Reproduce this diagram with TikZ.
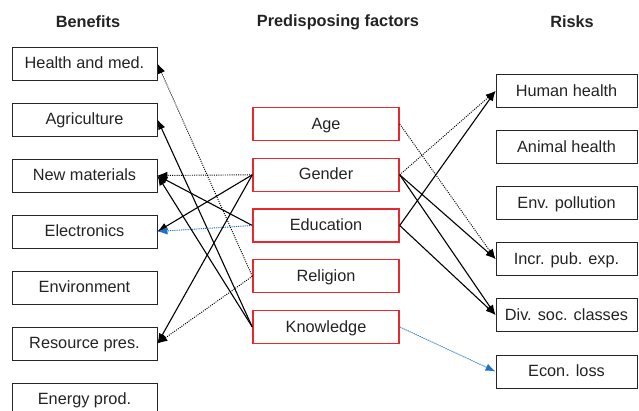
\documentclass[tikz,border=0pt]{standalone}
\usepackage{fontspec}
\setmainfont{Liberation Sans}
\usetikzlibrary{arrows.meta}
\definecolor{boxred}{RGB}{232,40,44}
\definecolor{arrblue}{RGB}{30,115,200}
\definecolor{txt}{RGB}{35,35,35}
\begin{document}
\begin{tikzpicture}[x=1pt,y=-1pt,
  bbox/.style={draw=black!85, line width=0.9pt, minimum height=33pt, inner sep=0pt,
    font=\fontsize{16.3}{19}\selectfont, text=txt, text height=13.2pt, text depth=3pt},
  lbox/.style={bbox, minimum width=145pt},
  mbox/.style={bbox, draw=boxred, line width=1.4pt, minimum width=146pt},
  rbox/.style={bbox, minimum width=141pt},
  ttl/.style={font=\bfseries\fontsize{16.3}{19}\selectfont, text=txt},
  solidarr/.style={-{Latex[length=10pt,width=7.5pt]}, line width=1.1pt, draw=black},
  dotarr/.style={-{Latex[length=10pt,width=7.5pt]}, line width=0.95pt, draw=black, dash pattern=on 1pt off 1.2pt},
  bluearr/.style={dotarr, draw=arrblue, fill=arrblue}]
\useasboundingbox (0,0) rectangle (639,411);

\node[ttl] (tb) at (88,22) {Benefits};
\node[ttl] (tp) at (338,22) {Predisposing factors};
\node[ttl] (tr) at (572,22) {Risks};

% Benefits
\node[lbox] (b1) at (84.5,63.5) {Health and med.};
\node[lbox] (b2) at (84.5,119.5) {Agriculture};
\node[lbox] (b3) at (84.5,175.5) {New materials};
\node[lbox] (b4) at (84.5,231.5) {Electronics};
\node[lbox] (b5) at (84.5,287.5) {Environment};
\node[lbox] (b6) at (84.5,343.5) {Resource pres.};
\node[lbox] (b7) at (84.5,399.5) {Energy prod.};

% Predisposing factors
\node[mbox] (p1) at (326,124) {Age};
\node[mbox] (p2) at (326,174.8) {Gender};
\node[mbox] (p3) at (326,225.5) {Education};
\node[mbox] (p4) at (326,276.3) {Religion};
\node[mbox] (p5) at (326,327) {Knowledge};

% Risks
\node[rbox] (r1) at (566.5,91) {Human health};
\node[rbox] (r2) at (566.5,147) {Animal health};
\node[rbox] (r3) at (566.5,203) {Env. pollution};
\node[rbox] (r4) at (566.5,259) {Incr. pub. exp.};
\node[rbox] (r5) at (566.5,315) {Div. soc. classes};
\node[rbox] (r6) at (566.5,371.5) {Econ. loss};

% left connectors
\draw[dotarr] (p4.west) -- (b1.east);
\draw[solidarr] (p5.west) -- (b2.east);
\draw[solidarr] (p5.west) -- (b3.east);
\draw[dotarr] (p2.west) -- (b3.east);
\draw[solidarr] (p3.west) -- (b3.east);
\draw[solidarr] (p2.west) -- (b4.east);
\draw[bluearr] (p3.west) -- (b4.east);
\draw[solidarr] (p2.west) -- (b6.east);
\draw[dotarr] (p4.west) -- (b6.east);

% right connectors
\draw[dotarr] (p1.east) -- (r4.west);
\draw[dotarr] (p2.east) -- (r1.west);
\draw[solidarr] (p2.east) -- (r4.west);
\draw[solidarr] (p2.east) -- (r5.west);
\draw[solidarr] (p3.east) -- (r1.west);
\draw[solidarr] (p3.east) -- (r5.west);
\draw[bluearr] (p5.east) -- (r6.west);
\end{tikzpicture}
\end{document}
